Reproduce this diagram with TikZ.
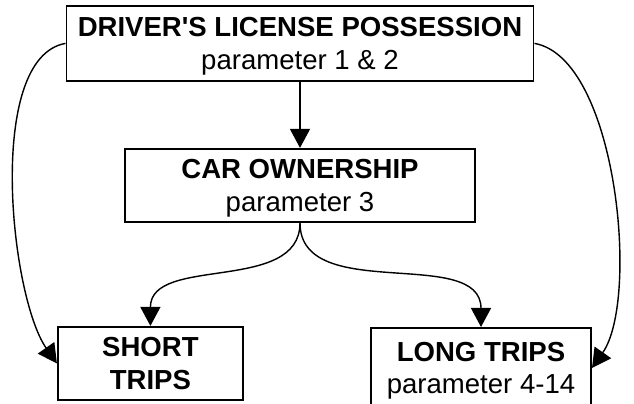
\documentclass[tikz,border=0pt]{standalone}
\usepackage{fontspec}
\setmainfont{Liberation Sans}
\usepackage{tikz}
\usetikzlibrary{shapes,arrows.meta}
\tikzstyle{block} = [draw,line width=1.4pt,align=center,inner sep=0pt,text depth=0pt,font=\fontsize{19.6}{23.3}\selectfont]
\tikzstyle{arrow} = [line width=1pt,-{Triangle[length=0.475cm,width=0.5cm]}]

\begin{document}
\begin{tikzpicture}

        \useasboundingbox (0,0) rectangle (15.85,10.075);

        % Driver's license node on top
        \node[block,minimum width=11.675cm,minimum height=1.875cm] (license) at (7.5,8.99)
            {\textbf{DRIVER\textquotesingle S LICENSE POSSESSION}\\parameter 1 \& 2};

        % Car ownership node in the middle
        \node[block,minimum width=8.75cm,minimum height=1.825cm] (car) at (7.5,5.44)
            {\textbf{CAR OWNERSHIP}\\parameter 3};

        % Short trips node, bottom left
        \node[block,minimum width=4.625cm,minimum height=1.825cm] (short) at (3.76,0.99)
            {\textbf{SHORT}\\\textbf{TRIPS}};

        % Long trips node, bottom right
        \node[block,minimum width=5.5cm,minimum height=2.0cm,anchor=north] (long) at (12.025,1.9)
            {\textbf{LONG TRIPS}\\parameter 4-14};

        % Arrows between the levels
        \draw[arrow] (license.south) -- (car.north);                                 % license -> car
        \draw[arrow] (car.south) to[out=-90,in=90] (short.north);                    % car -> short
        \draw[arrow] (car.south) to[out=-90,in=90] (long.north);                     % car -> long
        \draw[arrow] (license.west) to[out=190,in=125,looseness=0.65] (short.west);  % license -> short
        \draw[arrow] (license.east) to[out=-10,in=55,looseness=0.65] (long.east);    % license -> long

\end{tikzpicture}
\end{document}
